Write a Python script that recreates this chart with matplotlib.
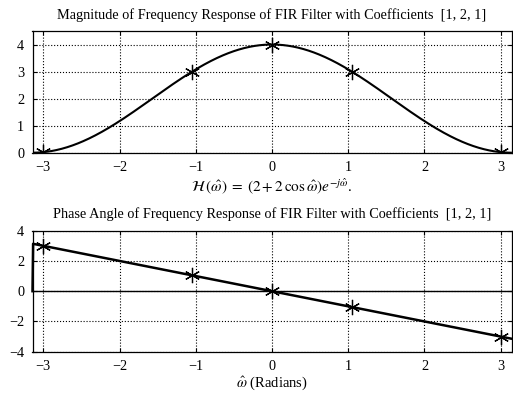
import numpy as np
import matplotlib
matplotlib.use("Agg")
import matplotlib.pyplot as plt

plt.rcParams["font.family"] = ["Liberation Serif", "DejaVu Serif"]
plt.rcParams["mathtext.fontset"] = "stix"
plt.rcParams["font.size"] = 10

# filter coefficients and the marked frequencies
coeffs = [1, 2, 1]
mark_w = [-3.0, -1.047, 0.0, 1.047, 3.0]
mark_mag = [0.02, 3.0, 4.0, 3.0, 0.02]
mark_phase = [3.0, 1.047, 0.0, -1.047, -3.0]

xticks = [-3, -2, -1, 0, 1, 2, 3]

# frequency response from the coefficients
w = np.linspace(-np.pi, np.pi, 801)[:-1]
H = sum(c * np.exp(-1j * w * k) for k, c in enumerate(coeffs))
mag = np.abs(H)
phase = np.angle(H)
phase[0] = 0.0

fig = plt.figure(figsize=(5.13, 3.94), dpi=100)

W, H_ = 513, 394
ax1 = fig.add_axes([32.5 / W, 1 - 152.7 / H_, 479 / W, 121.7 / H_])
ax2 = fig.add_axes([32.5 / W, 1 - 351.7 / H_, 479 / W, 121 / H_])

mk = dict(marker=(6, 2, 0), markersize=11, markeredgewidth=0.9,
          color="black", linestyle="none")

ax1.plot(w, mag, color="black", lw=1.5)
ax1.plot(mark_w, mark_mag, **mk)
ax1.set_xlim(-np.pi, np.pi)
ax1.set_ylim(0, 4.5)
ax1.set_yticks([0, 1, 2, 3, 4])
ax1.set_title("Magnitude of Frequency Response of FIR Filter with Coefficients  [1, 2, 1]",
              fontsize=10.3, pad=9)
ax1.set_xlabel(r"$\mathcal{H}\,(\hat{\omega})\;=\;(2 + 2\,\cos\hat{\omega})e^{-j\hat{\omega}}$.",
               fontsize=11, labelpad=2)

ax2.plot(w, phase, color="black", lw=1.8, clip_on=False)
ax2.plot(mark_w, mark_phase, **mk)
ax2.axhline(0, color="black", lw=1.0)
ax2.set_xlim(-np.pi, np.pi)
ax2.set_ylim(-4, 4)
ax2.set_yticks([-4, -2, 0, 2, 4])
ax2.set_title("Phase Angle of Frequency Response of FIR Filter with Coefficients  [1, 2, 1]",
              fontsize=10.3, pad=9)
ax2.set_xlabel(r"$\hat{\omega}$ (Radians)", fontsize=10.5, labelpad=1)

for ax in (ax1, ax2):
    ax.set_xticks(xticks)
    ax.set_xticklabels([str(t).replace("-", "\u2212") for t in xticks])
    ax.grid(True, color="black", linestyle=":", linewidth=0.8)
    ax.tick_params(direction="in", length=3, top=True, right=True,
                   labelsize=10.3, pad=6)
    for s in ax.spines.values():
        s.set_linewidth(0.9)

fig.savefig("out.png", dpi=100)
